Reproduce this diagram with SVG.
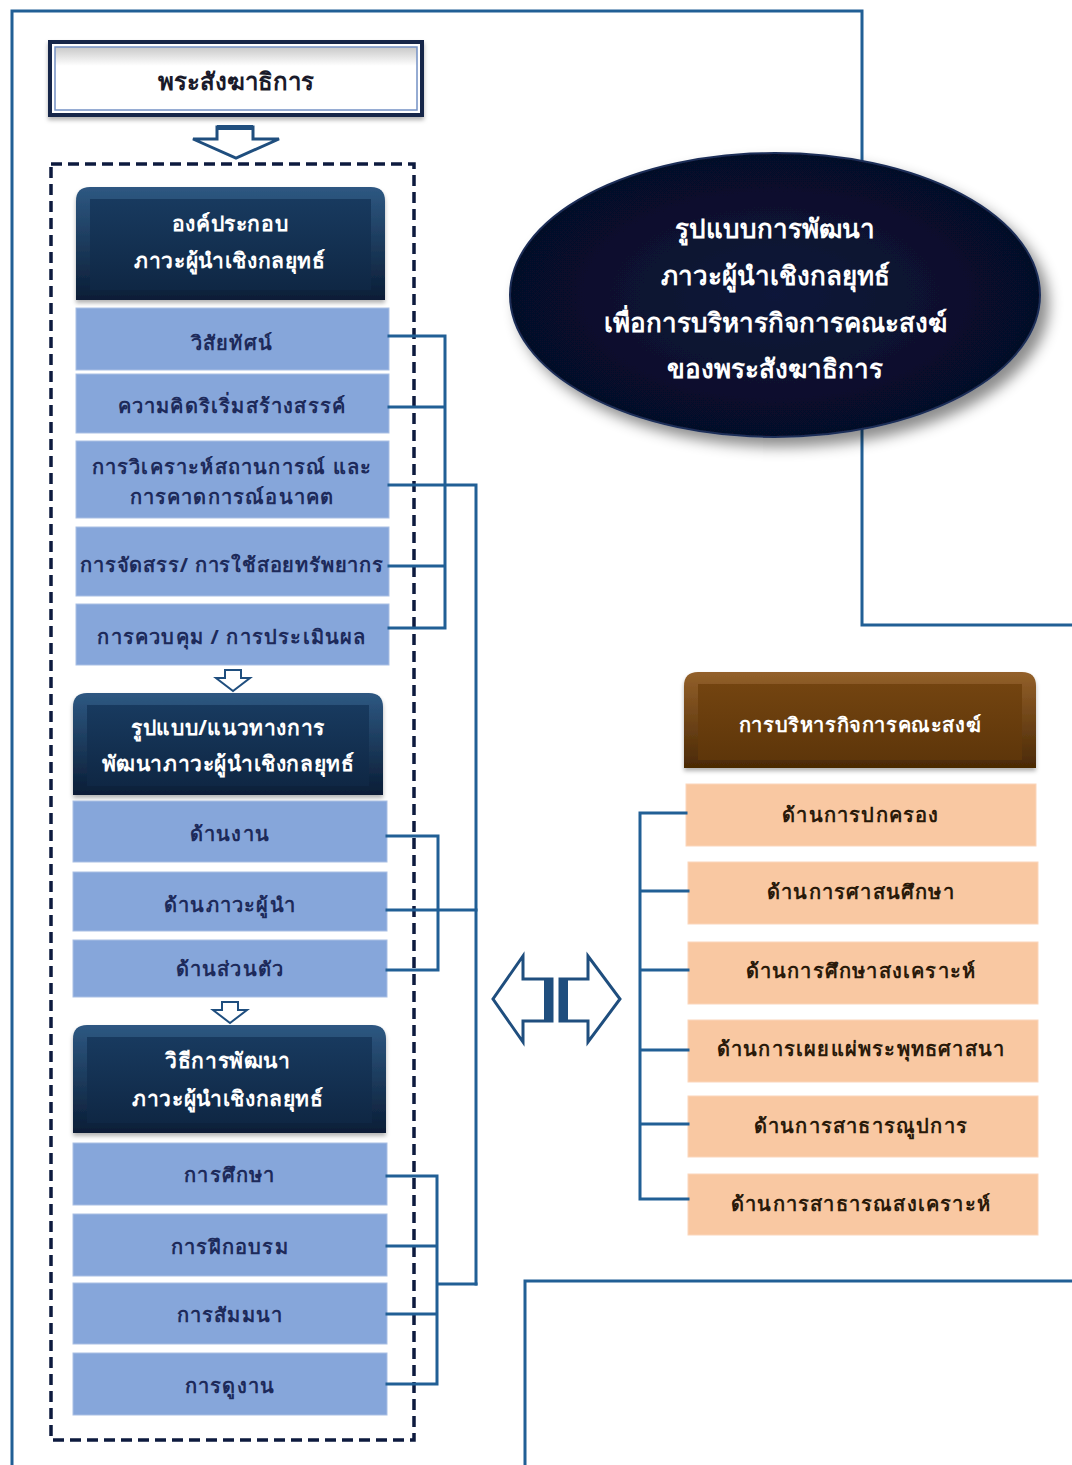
<svg xmlns="http://www.w3.org/2000/svg" width="1072" height="1465" viewBox="0 0 1072 1465">
<defs>
<style>
.frame{stroke:#215f95;stroke-width:3;fill:none}
.conn{stroke:#215f95;stroke-width:3;fill:none;stroke-linecap:square}
.item{fill:#86a6da;stroke:#a9bfe4;stroke-width:1}
.peach{fill:#f9c8a2;stroke:#fbd6bb;stroke-width:1}
.t{font-family:"Noto Sans","DejaVu Sans",sans-serif;font-weight:bold;text-anchor:middle;dominant-baseline:central}
.tn{fill:#1d2a5a;font-size:20px;letter-spacing:1.2px}
.tp{fill:#2a1a0a;font-size:20px;letter-spacing:1.2px}
.tw{fill:#ffffff;font-size:21px;letter-spacing:0.6px}
.arr{fill:#ffffff;stroke:#1f4e7e;stroke-width:3;stroke-linejoin:miter}
.arrf{fill:#1f4e7e}
</style>
<linearGradient id="navyOuter" x1="0" y1="0" x2="0" y2="1">
<stop offset="0" stop-color="#2e5882"/>
<stop offset="1" stop-color="#0a1d36"/>
</linearGradient>
<linearGradient id="navyFace" x1="0" y1="0" x2="0" y2="1">
<stop offset="0" stop-color="#183a5f"/>
<stop offset="1" stop-color="#0f2744"/>
</linearGradient>
<linearGradient id="brownOuter" x1="0" y1="0" x2="0" y2="1">
<stop offset="0" stop-color="#93602a"/>
<stop offset="1" stop-color="#4a2905"/>
</linearGradient>
<linearGradient id="brownFace" x1="0" y1="0" x2="0" y2="1">
<stop offset="0" stop-color="#734410"/>
<stop offset="1" stop-color="#5e360a"/>
</linearGradient>
<linearGradient id="topBox" x1="0" y1="0" x2="0" y2="1">
<stop offset="0" stop-color="#c8c8c8"/>
<stop offset="0.3" stop-color="#ffffff"/>
<stop offset="1" stop-color="#ffffff"/>
</linearGradient>
<radialGradient id="ellFill" cx="0.5" cy="0.5" r="0.5">
<stop offset="0" stop-color="#0a163a"/>
<stop offset="1" stop-color="#060e28"/>
</radialGradient>
<filter id="shadow" x="-10%" y="-10%" width="130%" height="140%">
<feDropShadow dx="8" dy="9" stdDeviation="7" flood-color="#000" flood-opacity="0.45"/>
</filter>
<filter id="smallShadow" x="-5%" y="-5%" width="110%" height="120%">
<feDropShadow dx="0" dy="3" stdDeviation="2" flood-color="#000" flood-opacity="0.3"/>
</filter>
</defs>
<rect width="1072" height="1465" fill="#ffffff"/>

<g id="frame">
<path class="frame" d="M12,1465 V11 H862 V625 H1072"/>
<path class="frame" d="M525,1465 V1281 H1072"/>
</g>

<g id="ellipse-node">
<ellipse cx="775" cy="295" rx="265" ry="142" fill="url(#ellFill)" stroke="#1e2f58" stroke-width="2" filter="url(#shadow)"/>
<text class="t tw" x="775" y="228" style="font-size:26px;letter-spacing:0">รูปแบบการพัฒนา</text>
<text class="t tw" x="775" y="275" style="font-size:26px;letter-spacing:0">ภาวะผู้นำเชิงกลยุทธ์</text>
<text class="t tw" x="775" y="322" style="font-size:26px;letter-spacing:0">เพื่อการบริหารกิจการคณะสงฆ์</text>
<text class="t tw" x="775" y="368" style="font-size:26px;letter-spacing:0">ของพระสังฆาธิการ</text>
</g>

<g id="top-box">
<rect x="50" y="42" width="372" height="73" fill="#ffffff" stroke="#16254a" stroke-width="4" filter="url(#smallShadow)"/>
<rect x="55" y="47" width="362" height="63" fill="url(#topBox)" stroke="#7390c4" stroke-width="1.5"/>
<text class="t" x="236" y="80" style="font-size:24px;fill:#1a1a2a">พระสังฆาธิการ</text>
</g>

<g id="arrow-down-1">
<path class="arr" d="M217,127 H253 V139 H279 L236,158 L193,139 H217 Z"/>
<rect class="arrf" x="217" y="125" width="36" height="5"/>
</g>

<g id="dashed-group">
<rect x="51" y="164" width="363" height="1276" fill="none" stroke="#0d1a3e" stroke-width="3.5" stroke-dasharray="11 6"/>
</g>

<g id="header-1">
<path d="M76,300 V201 Q76,187 90,187 H371 Q385,187 385,201 V300 Z" fill="url(#navyOuter)" filter="url(#smallShadow)"/>
<rect x="90" y="199" width="281" height="91" fill="url(#navyFace)"/>
<text class="t tw" x="230" y="223">องค์ประกอบ</text>
<text class="t tw" x="230" y="260">ภาวะผู้นำเชิงกลยุทธ์</text>
</g>

<g id="item-1-1"><rect class="item" x="76" y="308" width="313" height="62"/><text class="t tn" x="232" y="342">วิสัยทัศน์</text></g>
<g id="item-1-2"><rect class="item" x="76" y="374" width="313" height="59"/><text class="t tn" x="232" y="405">ความคิดริเริ่มสร้างสรรค์</text></g>
<g id="item-1-3"><rect class="item" x="76" y="441" width="313" height="77"/><text class="t tn" x="232" y="466">การวิเคราะห์สถานการณ์ และ</text><text class="t tn" x="232" y="496">การคาดการณ์อนาคต</text></g>
<g id="item-1-4"><rect class="item" x="76" y="527" width="313" height="69"/><text class="t tn" x="232" y="564" style="letter-spacing:0.8px">การจัดสรร/ การใช้สอยทรัพยากร</text></g>
<g id="item-1-5"><rect class="item" x="76" y="604" width="313" height="61"/><text class="t tn" x="232" y="636">การควบคุม / การประเมินผล</text></g>

<g id="arrow-down-2">
<path class="arr" style="stroke-width:2" d="M225,670 H241 V678 H250 L233,691 L216,678 H225 Z"/>
</g>

<g id="header-2">
<path d="M73,795 V707 Q73,693 87,693 H369 Q383,693 383,707 V795 Z" fill="url(#navyOuter)" filter="url(#smallShadow)"/>
<rect x="87" y="705" width="282" height="81" fill="url(#navyFace)"/>
<text class="t tw" x="228" y="727">รูปแบบ/แนวทางการ</text>
<text class="t tw" x="228" y="763">พัฒนาภาวะผู้นำเชิงกลยุทธ์</text>
</g>

<g id="item-2-1"><rect class="item" x="73" y="801" width="314" height="61"/><text class="t tn" x="230" y="833">ด้านงาน</text></g>
<g id="item-2-2"><rect class="item" x="73" y="872" width="314" height="59"/><text class="t tn" x="230" y="904">ด้านภาวะผู้นำ</text></g>
<g id="item-2-3"><rect class="item" x="73" y="940" width="314" height="57"/><text class="t tn" x="230" y="968">ด้านส่วนตัว</text></g>

<g id="arrow-down-3">
<path class="arr" style="stroke-width:2" d="M222,1002 H238 V1010 H247 L230,1023 L213,1010 H222 Z"/>
</g>

<g id="header-3">
<path d="M73,1133 V1039 Q73,1025 87,1025 H372 Q386,1025 386,1039 V1133 Z" fill="url(#navyOuter)" filter="url(#smallShadow)"/>
<rect x="87" y="1037" width="285" height="86" fill="url(#navyFace)"/>
<text class="t tw" x="228" y="1060">วิธีการพัฒนา</text>
<text class="t tw" x="228" y="1098">ภาวะผู้นำเชิงกลยุทธ์</text>
</g>

<g id="item-3-1"><rect class="item" x="73" y="1143" width="314" height="62"/><text class="t tn" x="230" y="1174">การศึกษา</text></g>
<g id="item-3-2"><rect class="item" x="73" y="1214" width="314" height="62"/><text class="t tn" x="230" y="1246">การฝึกอบรม</text></g>
<g id="item-3-3"><rect class="item" x="73" y="1283" width="314" height="61"/><text class="t tn" x="230" y="1314">การสัมมนา</text></g>
<g id="item-3-4"><rect class="item" x="73" y="1353" width="314" height="62"/><text class="t tn" x="230" y="1385">การดูงาน</text></g>

<g id="header-brown">
<path d="M684,768 V686 Q684,672 698,672 H1022 Q1036,672 1036,686 V768 Z" fill="url(#brownOuter)" filter="url(#smallShadow)"/>
<rect x="698" y="684" width="324" height="76" fill="url(#brownFace)"/>
<text class="t tw" x="860" y="724" style="font-size:20px">การบริหารกิจการคณะสงฆ์</text>
</g>

<g id="peach-1"><rect class="peach" x="686" y="784" width="350" height="62"/><text class="t tp" x="861" y="814">ด้านการปกครอง</text></g>
<g id="peach-2"><rect class="peach" x="688" y="862" width="350" height="62"/><text class="t tp" x="861" y="891">ด้านการศาสนศึกษา</text></g>
<g id="peach-3"><rect class="peach" x="688" y="942" width="350" height="62"/><text class="t tp" x="861" y="970">ด้านการศึกษาสงเคราะห์</text></g>
<g id="peach-4"><rect class="peach" x="688" y="1020" width="350" height="62"/><text class="t tp" x="861" y="1048">ด้านการเผยแผ่พระพุทธศาสนา</text></g>
<g id="peach-5"><rect class="peach" x="688" y="1096" width="350" height="61"/><text class="t tp" x="861" y="1125">ด้านการสาธารณูปการ</text></g>
<g id="peach-6"><rect class="peach" x="688" y="1174" width="350" height="61"/><text class="t tp" x="861" y="1203">ด้านการสาธารณสงเคราะห์</text></g>

<g id="double-arrow">
<path class="arr" d="M552,979 H523 V956 L493,999 L523,1042 V1021 H552 Z"/>
<rect class="arrf" x="544" y="979" width="8" height="42"/>
<path class="arr" d="M560,979 H588 V956 L620,999 L588,1042 V1021 H560 Z"/>
<rect class="arrf" x="560" y="979" width="8" height="42"/>
</g>

<g id="connectors">
<path class="conn" d="M389,336 H445 V628 H389 M389,407 H445 M389,566 H445"/>
<path class="conn" d="M389,485 H476 V1284"/>
<path class="conn" d="M387,836 H438 V970 H387 M387,910 H476"/>
<path class="conn" d="M387,1176 H437 V1384 H387 M387,1246 H437 M387,1314 H437 M437,1284 H476"/>
<path class="conn" d="M686,813 H640 V1199 H688 M640,891 H688 M640,970 H688 M640,1050 H688 M640,1124 H688"/>
</g>
</svg>
